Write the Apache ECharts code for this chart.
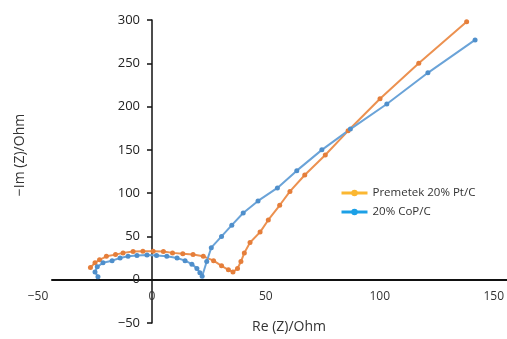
<!DOCTYPE html>
<html><head><meta charset="utf-8">
<script src="https://cdn.jsdelivr.net/npm/echarts@6/dist/echarts.min.js"></script>
<style>html,body{margin:0;padding:0;background:#fff}#c{width:507px;height:339px}</style>
</head><body><div id="c"></div>
<script>
var seriesNames = ['Premetek 20% Pt/C', '20% CoP/C'];
var ptcData = [[-27,14],[-25,19.6],[-23,23],[-20,27],[-16,29],[-12.7,31],[-8.3,32.5],[-4,33],[0.5,33],[5,32.5],[9,31],[13.5,30],[18,29],[22.5,27],[27,22],[30.5,16],[33.5,11.5],[35.5,9],[37.5,13],[39,21],[40.5,31],[43,43],[47.4,55],[51,69],[56,86],[60.5,102],[67,121],[76,144],[86,172],[100,209],[117,250],[138,298]];
var copData = [[-23.7,3.5],[-25,9],[-24,15],[-21.5,19.5],[-17.5,22],[-14,25],[-10.5,27],[-6.6,28],[-2.2,28.5],[2,28],[6.5,27],[11,25],[14.5,22],[17.5,18],[19.7,13],[21,8],[22,4],[24,21],[26,37],[30.5,50],[35,63],[40,77],[46.5,91],[55,106],[63.5,126],[74.5,150],[87,174],[103,203],[121,239],[141.7,277]];
var xTickLabels = [-50, 0, 50, 100, 150];
var yTickLabels = [-50, 0, 50, 100, 150, 200, 250, 300];
var xTitle = 'Re (Z)/Ohm';
var yTitle = '\u2212Im (Z)/Ohm';

var fmt = function(v){ return String(v).replace('-', '\u2212'); };
var chart = echarts.init(document.getElementById('c'));
chart.setOption({
  animation: false,
  backgroundColor: '#fff',
  grid: [
    {left: 52, right: 0, top: 20, bottom: 16},
    {left: 38, right: 13, top: 0, bottom: 59}
  ],
  xAxis: [
    {type: 'value', gridIndex: 0, min: -43.86, max: 155.7,
     axisLine: {onZero: true, lineStyle: {color: '#111', width: 2}},
     axisTick: {show: false}, axisLabel: {show: false}, splitLine: {show: false}},
    {type: 'value', gridIndex: 1, min: xTickLabels[0], max: xTickLabels[xTickLabels.length-1], interval: 50,
     axisLine: {show: false}, axisTick: {show: false}, splitLine: {show: false},
     axisLabel: {margin: 11, color: '#333', fontSize: 12, fontFamily: 'Open Sans', formatter: fmt}}
  ],
  yAxis: [
    {type: 'value', gridIndex: 0, position: 'left', offset: -100,
     min: yTickLabels[0], max: yTickLabels[yTickLabels.length-1], interval: 50,
     axisLine: {show: true, onZero: false, lineStyle: {color: '#111', width: 1.5}},
     axisTick: {show: true, length: 5, lineStyle: {color: '#111', width: 1.5}},
     splitLine: {show: false},
     axisLabel: {margin: 12, color: '#222', fontSize: 13, fontFamily: 'Open Sans', formatter: fmt}},
    {type: 'value', gridIndex: 1, show: false}
  ],
  legend: {
    orient: 'vertical', left: 335, top: 182, itemWidth: 26, itemHeight: 8, itemGap: 7,
    textStyle: {fontSize: 11.5, color: '#333', fontFamily: 'Open Sans'},
    data: [
      {name: seriesNames[0], itemStyle: {color: '#FBB731'}, lineStyle: {color: '#FBB731', width: 3}},
      {name: seriesNames[1], itemStyle: {color: '#1CA0E6'}, lineStyle: {color: '#1CA0E6', width: 3}}
    ]
  },
  series: [
    {name: seriesNames[0], type: 'line', xAxisIndex: 0, yAxisIndex: 0, data: ptcData,
     symbol: 'circle', symbolSize: 5, showAllSymbol: true,
     itemStyle: {color: '#E57E3A'}, lineStyle: {color: '#EC9150', width: 2}},
    {name: seriesNames[1], type: 'line', xAxisIndex: 0, yAxisIndex: 0, data: copData,
     symbol: 'circle', symbolSize: 5, showAllSymbol: true,
     itemStyle: {color: '#4F8FCB'}, lineStyle: {color: '#6AA3D8', width: 2}}
  ],
  graphic: [
    {type: 'text', left: 252, top: 320, style: {text: xTitle, fontSize: 14, fill: '#333', fontFamily: 'Open Sans'}},
    {type: 'text', x: 20, y: 155, rotation: Math.PI/2,
     style: {text: yTitle, fontSize: 14, fill: '#333', fontFamily: 'Open Sans', align: 'center', verticalAlign: 'middle'}}
  ]
});
</script></body></html>
